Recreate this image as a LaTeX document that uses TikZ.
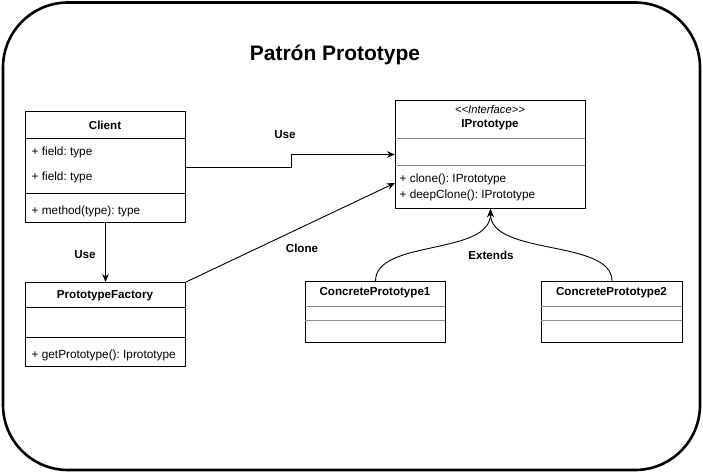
\documentclass[tikz,border=0pt]{standalone}
\usepackage{fontspec}
\setmainfont{Liberation Sans}
\usetikzlibrary{arrows.meta,calc}
\begin{document}
\frenchspacing
\begin{tikzpicture}[x=1pt,y=-1pt,
  every node/.style={font=\fontsize{11.8}{13.5}\selectfont, inner sep=0pt},
  box/.style={draw=black, line width=1pt, anchor=north west},
  lbl/.style={font=\fontsize{11.6}{13.5}\selectfont\bfseries},
  mem/.style={anchor=west},
  sepb/.style={draw=black, line width=0.8pt},
  sepg/.style={draw=black!45, line width=0.8pt},
  arr/.style={draw=black, line width=0.9pt, -{Stealth[length=8pt,width=6.5pt]}}]
\useasboundingbox (0,0) rectangle (703,473);
% outer frame
\draw[line width=2.6pt, rounded corners=65pt] (3,2.5) rectangle (700,470);
\node[font=\fontsize{21}{25}\selectfont\bfseries] (title) at (335,55) {Patrón Prototype};

% Client
\node[box, minimum width=160, minimum height=111] (client) at (25,111) {};
\node[lbl] (clientname) at (105,125) {Client};
\draw[sepb] (25,138) -- (185,138);
\node[mem] (cf1) at (31.5,152.5) {+ field: type};
\node[mem] (cf2) at (31.5,177.5) {+ field: type};
\draw[sepb] (25,193) -- (185,193);
\node[mem] (cm1) at (31.5,211.5) {+ method(type): type};

% PrototypeFactory
\node[box, minimum width=160, minimum height=84] (factory) at (25,282) {};
\node[lbl] (factname) at (105,296) {PrototypeFactory};
\draw[sepb] (25,307) -- (185,307);
\draw[sepb] (25,337) -- (185,337);
\node[mem] (fm1) at (31.5,355) {+ getPrototype(): Iprototype};

% IPrototype
\node[box, minimum width=190, minimum height=108] (iproto) at (395,100) {};
\node[font=\fontsize{11.2}{13}\selectfont\itshape] (stereo) at (490,109) {<\kern0pt<Interface>\kern0pt>};
\node[lbl] (ipname) at (490,124.5) {IPrototype};
\draw[sepg] (395,138) -- (585,138);
\draw[sepg] (395,165) -- (585,165);
\node[mem] (im1) at (399.5,179) {+ clone(): IPrototype};
\node[mem] (im2) at (399.5,195) {+ deepClone(): IPrototype};

% ConcretePrototype1
\node[box, minimum width=140, minimum height=61] (cp1) at (305,281) {};
\node[lbl] (cp1name) at (375,293) {ConcretePrototype1};
\draw[sepg] (305,306) -- (445,306);
\draw[sepg] (305,320) -- (445,320);

% ConcretePrototype2
\node[box, minimum width=141, minimum height=61] (cp2) at (541,281) {};
\node[lbl] (cp2name) at (611.5,293) {ConcretePrototype2};
\draw[sepg] (541,306) -- (682,306);
\draw[sepg] (541,320) -- (682,320);

% connectors
\draw[arr] (client.east) -- ++(105.5,0) |- (iproto.west);
\node[lbl] (use1) at (285,135) {Use};
\draw[arr] (client.south) -- (factory.north);
\node[lbl] (use2) at (85,255) {Use};
\draw[arr] (factory.north east) -- ($(iproto.south west)+(0,-26)$);
\node[lbl] (clone) at (302,248) {Clone};
\draw[arr] (cp1.north) .. controls +(0,-42) and +(0,47) .. (iproto.south);
\draw[arr] (cp2.north) .. controls +(0,-42) and +(0,47) .. (iproto.south);
\node[lbl] (ext) at (491,255) {Extends};
\end{tikzpicture}
\end{document}
